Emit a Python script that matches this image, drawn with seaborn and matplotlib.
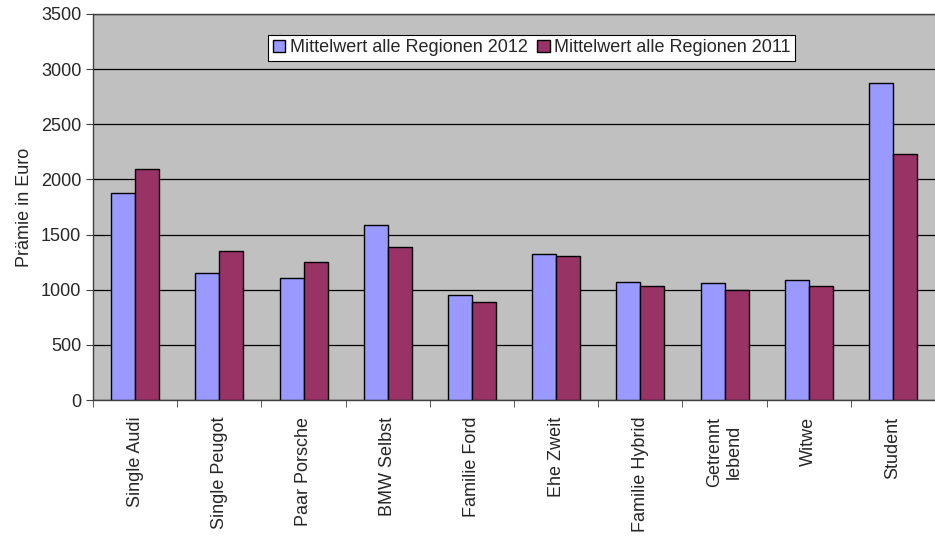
import matplotlib
matplotlib.use('Agg')
import matplotlib.pyplot as plt
import pandas as pd
import seaborn as sns
from matplotlib.ticker import FixedLocator

# Data
kategorien = ['Single Audi', 'Single Peugot', 'Paar Porsche', 'BMW Selbst', 'Familie Ford',
              'Ehe Zweit', 'Familie Hybrid', 'Getrennt\nlebend', 'Witwe', 'Student']
werte_2012 = [1875, 1155, 1110, 1588, 952, 1325, 1070, 1058, 1090, 2870]
werte_2011 = [2095, 1350, 1250, 1385, 886, 1303, 1034, 997, 1034, 2228]
serien = ['Mittelwert alle Regionen 2012', 'Mittelwert alle Regionen 2011']
farben = ['#9999FF', '#993366']

df = pd.DataFrame({
    'Kategorie': kategorien * 2,
    'Serie': [serien[0]] * len(kategorien) + [serien[1]] * len(kategorien),
    'Wert': werte_2012 + werte_2011,
})

sns.set_style('white')
plt.rcParams['font.family'] = ['Liberation Sans', 'DejaVu Sans']
fs = 13

fig = plt.figure(figsize=(9.35, 5.37), dpi=100)
ax = fig.add_axes([0.0995, 0.255, 0.9005, 0.719])
ax.set_facecolor('#C0C0C0')

sns.barplot(data=df, x='Kategorie', y='Wert', hue='Serie', palette=farben,
            width=0.57, edgecolor='black', linewidth=1, saturation=1, ax=ax, zorder=3)

# Axes, grid and ticks
ax.set_ylim(0, 3500)
ax.set_yticks(range(0, 3501, 500))
ax.set_xlim(-0.5, len(kategorien) - 0.5)
ax.yaxis.grid(True, color='black', linewidth=0.9, zorder=0)
ax.set_axisbelow(True)
ax.set_xlabel('')
ax.set_ylabel('Prämie in Euro', fontsize=fs, labelpad=6)
ax.tick_params(axis='y', labelsize=fs, length=5, direction='out', color='#404040', left=True)
ax.tick_params(axis='x', which='major', labelsize=fs, length=0, pad=12)
ax.xaxis.set_minor_locator(FixedLocator([i - 0.5 for i in range(len(kategorien) + 1)]))
ax.tick_params(axis='x', which='minor', length=5, direction='out', color='#404040', bottom=True)
plt.setp(ax.get_xticklabels(), rotation=90, va='top', ha='center', multialignment='center')

for side in ['left', 'top', 'bottom']:
    ax.spines[side].set_color('#404040')
    ax.spines[side].set_linewidth(1)
ax.spines['right'].set_visible(False)

leg = ax.legend(loc='center', bbox_to_anchor=(0.521, 0.912), ncol=2, fontsize=fs,
                frameon=True, fancybox=False, edgecolor='black', framealpha=1,
                handlelength=0.7, handleheight=0.7, handletextpad=0.25, columnspacing=0.5,
                borderpad=0.25, borderaxespad=0)
leg.get_frame().set_linewidth(0.8)
for h in leg.legend_handles:
    h.set_edgecolor('black')

fig.savefig('out.png', dpi=100)
